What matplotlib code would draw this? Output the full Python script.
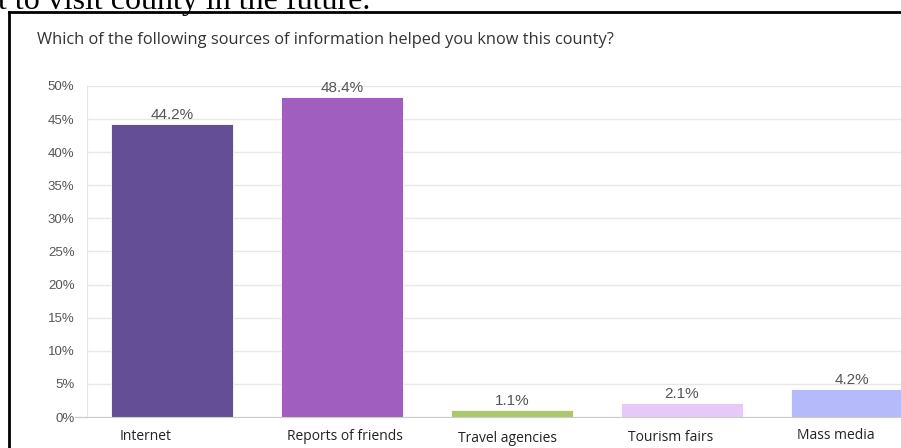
import numpy as np
import matplotlib
matplotlib.use('Agg')
import matplotlib.pyplot as plt
from matplotlib.lines import Line2D

sources = ['Internet', 'Reports of friends', 'Travel agencies', 'Tourism fairs', 'Mass media']
shares = [44.2, 48.4, 1.1, 2.1, 4.2]
colours = ['#644f96', '#a05fbf', '#a9c96b', '#e6c9f7', '#b4bafa']
yticks = [0, 5, 10, 15, 20, 25, 30, 35, 40, 45, 50]
# category label nudges in pixels (dx, dy below the axis)
label_shift = [(-26, 19), (3, 19), (-5, 21), (-11, 20), (-16, 18)]

W, H = 901, 448
fig = plt.figure(figsize=(W/100, H/100), dpi=100)

# text from the page above the chart, cut by the crop
fig.text(-2/W, 1 - 9/H, 't to visit county in the future.', family='Liberation Serif',
         fontsize=23, color='black', ha='left', va='baseline')

# frame around the chart
fig.add_artist(Line2D([9/W, 1.01], [1 - 12.5/H, 1 - 12.5/H], transform=fig.transFigure,
                      color='black', lw=2))
fig.add_artist(Line2D([9/W, 9/W], [1 - 12.5/H, -0.01], transform=fig.transFigure,
                      color='black', lw=2))

fig.text(37/W, 1 - 40/H, 'Which of the following sources of information helped you know this county?',
         family='Open Sans', fontsize=11.8, color='#333333', ha='left', va='center')

ax = fig.add_axes([87/W, 31/H, 850/W, 331/H])
x = np.arange(len(sources))
bars = ax.bar(x, shares, width=0.72, color=colours, edgecolor='white', linewidth=0.6, zorder=3)
for xi, v in zip(x, shares):
    ax.text(xi, v + 0.3, f'{v}%', ha='center', va='bottom', family='Liberation Sans',
            fontsize=11, color='#555555', zorder=4)

for xi, name, (dx, dy) in zip(x, sources, label_shift):
    ax.annotate(name, xy=(xi, 0), xycoords=('data', 'axes fraction'),
                xytext=(dx, -dy), textcoords='offset pixels', ha='center', va='center',
                family='Open Sans', fontsize=10, color='#222222', annotation_clip=False)

ax.set_xlim(-0.5, 4.5)
ax.set_ylim(0, 50)
ax.set_yticks(yticks)
ax.set_yticklabels([f'{t}%' for t in yticks], family='Liberation Sans', fontsize=9.5, color='#555555')
ax.set_xticks([])
ax.tick_params(axis='y', length=0, pad=9)
ax.grid(axis='y', color='#e8e8e8', lw=1, zorder=0)
for s in ['top', 'right']:
    ax.spines[s].set_visible(False)
ax.spines['left'].set_color('#e4e4e4')
ax.spines['bottom'].set_color('#cccccc')
ax.spines['bottom'].set_zorder(5)
ax.plot([-0.5 - 12/170, -0.5], [0, 0], color='#cccccc', lw=1, clip_on=False)

fig.savefig('out.png', dpi=100)
